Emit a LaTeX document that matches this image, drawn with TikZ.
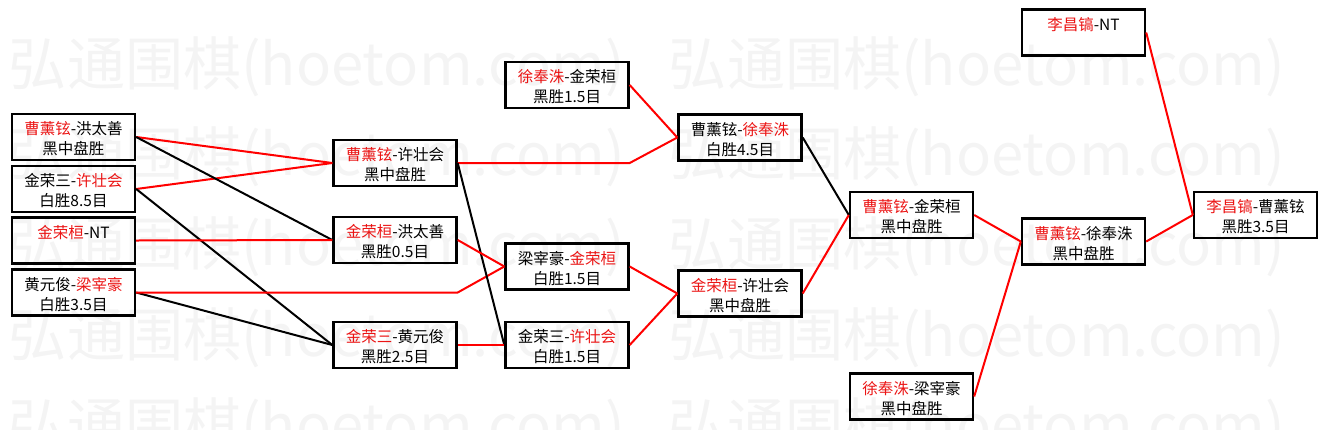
\documentclass[tikz,border=0pt]{standalone}
\usepackage{fontspec}
\setmainfont{Noto Sans CJK SC}
\usepackage{graphicx}
\definecolor{wm}{gray}{0.955}
\definecolor{rd}{RGB}{235,20,20}
\newcommand{\rn}[1]{\textcolor{rd}{#1}}
\newcommand{\boxtext}[2]{\rule{0pt}{18pt}#1\\\rule[-3pt]{0pt}{3pt}#2}
\tikzset{
  game/.style={draw=black, line width=2.4pt, minimum width=123pt, minimum height=46pt,
    inner sep=0pt, align=center, font=\fontsize{15.5}{20}\selectfont, text=black},
  rl/.style={draw=red, line width=2pt},
  bl/.style={draw=black, line width=2pt},
  wmark/.style={inner sep=0pt, text=wm, font=\fontsize{56}{56}\selectfont}
}
\begin{document}
\begin{tikzpicture}[x=1pt,y=-1pt]
\useasboundingbox (0,0) rectangle (1327,429);
% watermark
\foreach \yy/\n in {67/1,157/2,247/3,338/4,428/5}{
  \node[wmark] (wl\n) at (317,\yy) {\resizebox{616pt}{!}{弘通围棋(hoetom.com)}};
  \node[wmark] (wr\n) at (977,\yy) {\resizebox{616pt}{!}{弘通围棋(hoetom.com)}};
}
% column 1
\node[game] (b1) at (73.5,137) {\boxtext{\rn{曹薰铉}-洪太善}{黑中盘胜}};
\node[game] (b2) at (73.5,189) {\boxtext{金荣三-\rn{许壮会}}{白胜8.5目}};
\node[game] (b3) at (73.5,240.5) {\boxtext{\rn{金荣桓}-NT}{}};
\node[game] (b4) at (73.5,292.5) {\boxtext{黄元俊-\rn{梁宰豪}}{白胜3.5目}};
% column 2
\node[game] (c1) at (395,163) {\boxtext{\rn{曹薰铉}-许壮会}{黑中盘胜}};
\node[game] (c2) at (395,240) {\boxtext{\rn{金荣桓}-洪太善}{黑胜0.5目}};
\node[game] (c3) at (395,345) {\boxtext{\rn{金荣三}-黄元俊}{黑胜2.5目}};
% column 3
\node[game] (d0) at (567,85) {\boxtext{\rn{徐奉洙}-金荣桓}{黑胜1.5目}};
\node[game] (d1) at (567,266.5) {\boxtext{梁宰豪-\rn{金荣桓}}{白胜1.5目}};
\node[game] (d2) at (567,345) {\boxtext{金荣三-\rn{许壮会}}{白胜1.5目}};
% column 4
\node[game] (e1) at (740,137.5) {\boxtext{曹薰铉-\rn{徐奉洙}}{白胜4.5目}};
\node[game] (e2) at (740,293.5) {\boxtext{\rn{金荣桓}-许壮会}{黑中盘胜}};
% column 5
\node[game] (f1) at (911.5,215) {\boxtext{\rn{曹薰铉}-金荣桓}{黑中盘胜}};
\node[game] (f2) at (911.5,396.5) {\boxtext{\rn{徐奉洙}-梁宰豪}{黑中盘胜}};
% column 6
\node[game] (g0) at (1083.5,32.5) {\boxtext{\rn{李昌镐}-NT}{}};
\node[game] (g1) at (1083.5,241.5) {\boxtext{\rn{曹薰铉}-徐奉洙}{黑中盘胜}};
% column 7
\node[game] (h) at (1255.5,215) {\boxtext{\rn{李昌镐}-曹薰铉}{黑胜3.5目}};
% connectors
\draw[rl] (b1.east) -- (c1.west);
\draw[rl] (b2.east) -- (c1.west);
\draw[bl] (b1.east) -- (c2.west);
\draw[bl] (b2.east) -- (c3.west);
\draw[rl] (b3.east) -- (c2.west);
\draw[bl] (b4.east) -- (c3.west);
\draw[rl] (b4.east) -- (b4.east -| c3.east) -- (d1.west);
\draw[rl] (c1.east) -- (c1.east -| d1.east) -- (e1.west);
\draw[bl] (c1.east) -- (d2.west);
\draw[rl] (c2.east) -- (d1.west);
\draw[rl] (c3.east) -- (d2.west);
\draw[rl] (d0.east) -- (e1.west);
\draw[rl] (d1.east) -- (e2.west);
\draw[rl] (d2.east) -- (e2.west);
\draw[bl] (e1.east) -- (f1.west);
\draw[rl] (e2.east) -- (f1.west);
\draw[rl] (f1.east) -- (g1.west);
\draw[rl] (f2.east) -- (g1.west);
\draw[rl] (g1.east) -- (h.west);
\draw[rl] (g0.east) -- (h.west);
\end{tikzpicture}
\end{document}
